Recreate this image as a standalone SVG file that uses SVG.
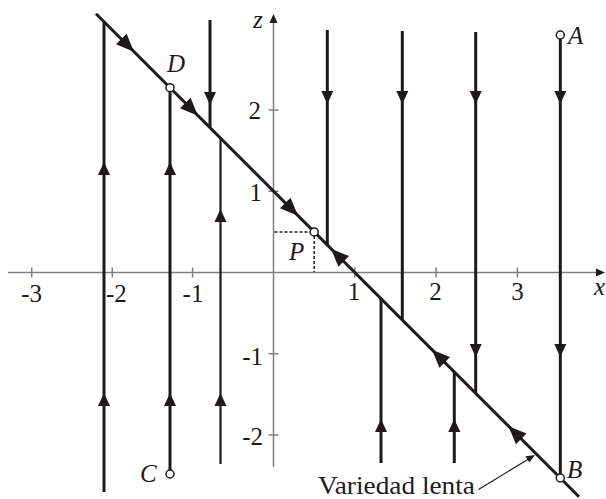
<svg xmlns="http://www.w3.org/2000/svg" xmlns:xlink="http://www.w3.org/1999/xlink" width="606" height="499" viewBox="0 0 606 499">
<style>
.ax{stroke:#808080;stroke-width:1.5;fill:none}
.tr{stroke:#1f1a1a;stroke-width:3;fill:none}
.tn{stroke:#1f1a1a;stroke-width:2.2;fill:none}
.ah{fill:#1f1a1a}
text{font-family:'Liberation Serif','Times New Roman',serif;fill:#1f1a1a}
.num{font-size:25px}
.lab{font-size:25px;font-style:italic}
.txt{font-size:25px}
.pt{fill:#fff;stroke:#1f1a1a;stroke-width:1.5}
.dash{stroke:#1f1a1a;stroke-width:1.5;stroke-dasharray:3 2;fill:none}
</style>
<defs>
<path id="a" class="ah" d="M0,0 L-13,-6 L-13,6 Z"/>
<path id="aL" class="ah" d="M0,0 L-18,-7.5 L-18,7.5 Z"/>
<path id="aX" fill="#1f1a1a" d="M0,0 L-9,-4 L-9,4 Z"/>
</defs>

<g id="axes">
<line class="ax" x1="8" y1="272.5" x2="598" y2="272.5"/>
<use xlink:href="#aX" transform="translate(605,272.5)"/>
<line class="ax" x1="273.5" y1="467" x2="273.5" y2="22"/>
<use xlink:href="#aX" transform="translate(273.5,14) rotate(-90)"/>
<path class="ax" d="M31.7,267.5v10 M112.3,267.5v10 M192.6,267.5v10 M354.8,267.5v10 M436.1,267.5v10 M517.4,267.5v10"/>
<path class="ax" d="M268.5,110h10 M268.5,191.2h10 M268.5,353.8h10 M268.5,435.1h10"/>
<text class="num" x="31.7" y="302" text-anchor="middle">-3</text>
<text class="num" x="106" y="302">-2</text>
<text class="num" x="193" y="302" text-anchor="middle">-1</text>
<text class="num" x="354" y="300" text-anchor="middle">1</text>
<text class="num" x="435.5" y="300" text-anchor="middle">2</text>
<text class="num" x="517.5" y="300" text-anchor="middle">3</text>
<text class="num" x="261" y="119" text-anchor="end">2</text>
<text class="num" x="262" y="201" text-anchor="end">1</text>
<text class="num" x="263" y="365" text-anchor="end">-1</text>
<text class="num" x="263" y="445" text-anchor="end">-2</text>
<text class="lab" x="594" y="295">x</text>
<text class="lab" x="253" y="28">z</text>
</g>

<g id="connectors">
<line class="tr" x1="96" y1="13.7" x2="579" y2="496.7"/>
<use xlink:href="#aL" transform="translate(134,51.7) rotate(45)"/>
<use xlink:href="#aL" transform="translate(198,115.7) rotate(45)"/>
<use xlink:href="#aL" transform="translate(298,215.7) rotate(45)"/>
<use xlink:href="#aL" transform="translate(331,248.7) rotate(-135)"/>
<use xlink:href="#aL" transform="translate(432,349.7) rotate(-135)"/>
<use xlink:href="#aL" transform="translate(508.5,426.2) rotate(-135)"/>
<line class="tr" x1="104" y1="21.7" x2="104" y2="492"/>
<use xlink:href="#a" transform="translate(104,162) rotate(-90)"/>
<use xlink:href="#a" transform="translate(104,393) rotate(-90)"/>
<line class="tr" x1="170" y1="92" x2="170" y2="470"/>
<use xlink:href="#a" transform="translate(170,162) rotate(-90)"/>
<use xlink:href="#a" transform="translate(170,393) rotate(-90)"/>
<line class="tr" x1="210" y1="20" x2="210" y2="127.7"/>
<use xlink:href="#a" transform="translate(210,105) rotate(90)"/>
<line class="tn" x1="220.5" y1="138.2" x2="220.5" y2="464"/>
<use xlink:href="#a" transform="translate(220.5,209) rotate(-90)"/>
<use xlink:href="#a" transform="translate(220.5,393) rotate(-90)"/>
<line class="tr" x1="327.3" y1="30" x2="327.3" y2="245"/>
<use xlink:href="#a" transform="translate(327.3,104) rotate(90)"/>
<line class="tr" x1="402.3" y1="31" x2="402.3" y2="320"/>
<use xlink:href="#a" transform="translate(402.3,104) rotate(90)"/>
<line class="tr" x1="475.7" y1="32" x2="475.7" y2="393.4"/>
<use xlink:href="#a" transform="translate(475.7,104) rotate(90)"/>
<use xlink:href="#a" transform="translate(475.7,357) rotate(90)"/>
<line class="tr" x1="560.3" y1="39" x2="560.3" y2="474"/>
<use xlink:href="#a" transform="translate(560.3,104) rotate(90)"/>
<use xlink:href="#a" transform="translate(560.3,357) rotate(90)"/>
<line class="tr" x1="381" y1="298.7" x2="381" y2="463"/>
<use xlink:href="#a" transform="translate(381,419) rotate(-90)"/>
<line class="tr" x1="454.3" y1="372" x2="454.3" y2="463"/>
<use xlink:href="#a" transform="translate(454.3,419) rotate(-90)"/>
<line class="dash" x1="274.5" y1="232" x2="310" y2="232"/>
<line class="dash" x1="314.2" y1="236" x2="314.2" y2="272"/>
<line x1="478.5" y1="489.5" x2="529" y2="458.8" stroke="#1f1a1a" stroke-width="1.2"/>
<path class="ah" d="M535,455 L525.5,456.3 L529.3,462.5 Z"/>
</g>

<g id="node-D">
<circle class="pt" cx="170" cy="87.7" r="4"/>
<text class="lab" x="167" y="72">D</text>
</g>
<g id="node-P">
<circle class="pt" cx="314.2" cy="231.9" r="4"/>
<text class="lab" x="289" y="260">P</text>
</g>
<g id="node-A">
<circle class="pt" cx="560.3" cy="35" r="4"/>
<text class="lab" x="568" y="43.5">A</text>
</g>
<g id="node-B">
<circle class="pt" cx="560.3" cy="478" r="4"/>
<text class="lab" x="567" y="478">B</text>
</g>
<g id="node-C">
<circle class="pt" cx="170" cy="474" r="4"/>
<text class="lab" x="140" y="482">C</text>
</g>
<g id="label-variedad">
<text class="txt" x="318" y="494" textLength="157" lengthAdjust="spacingAndGlyphs">Variedad lenta</text>
</g>
</svg>
